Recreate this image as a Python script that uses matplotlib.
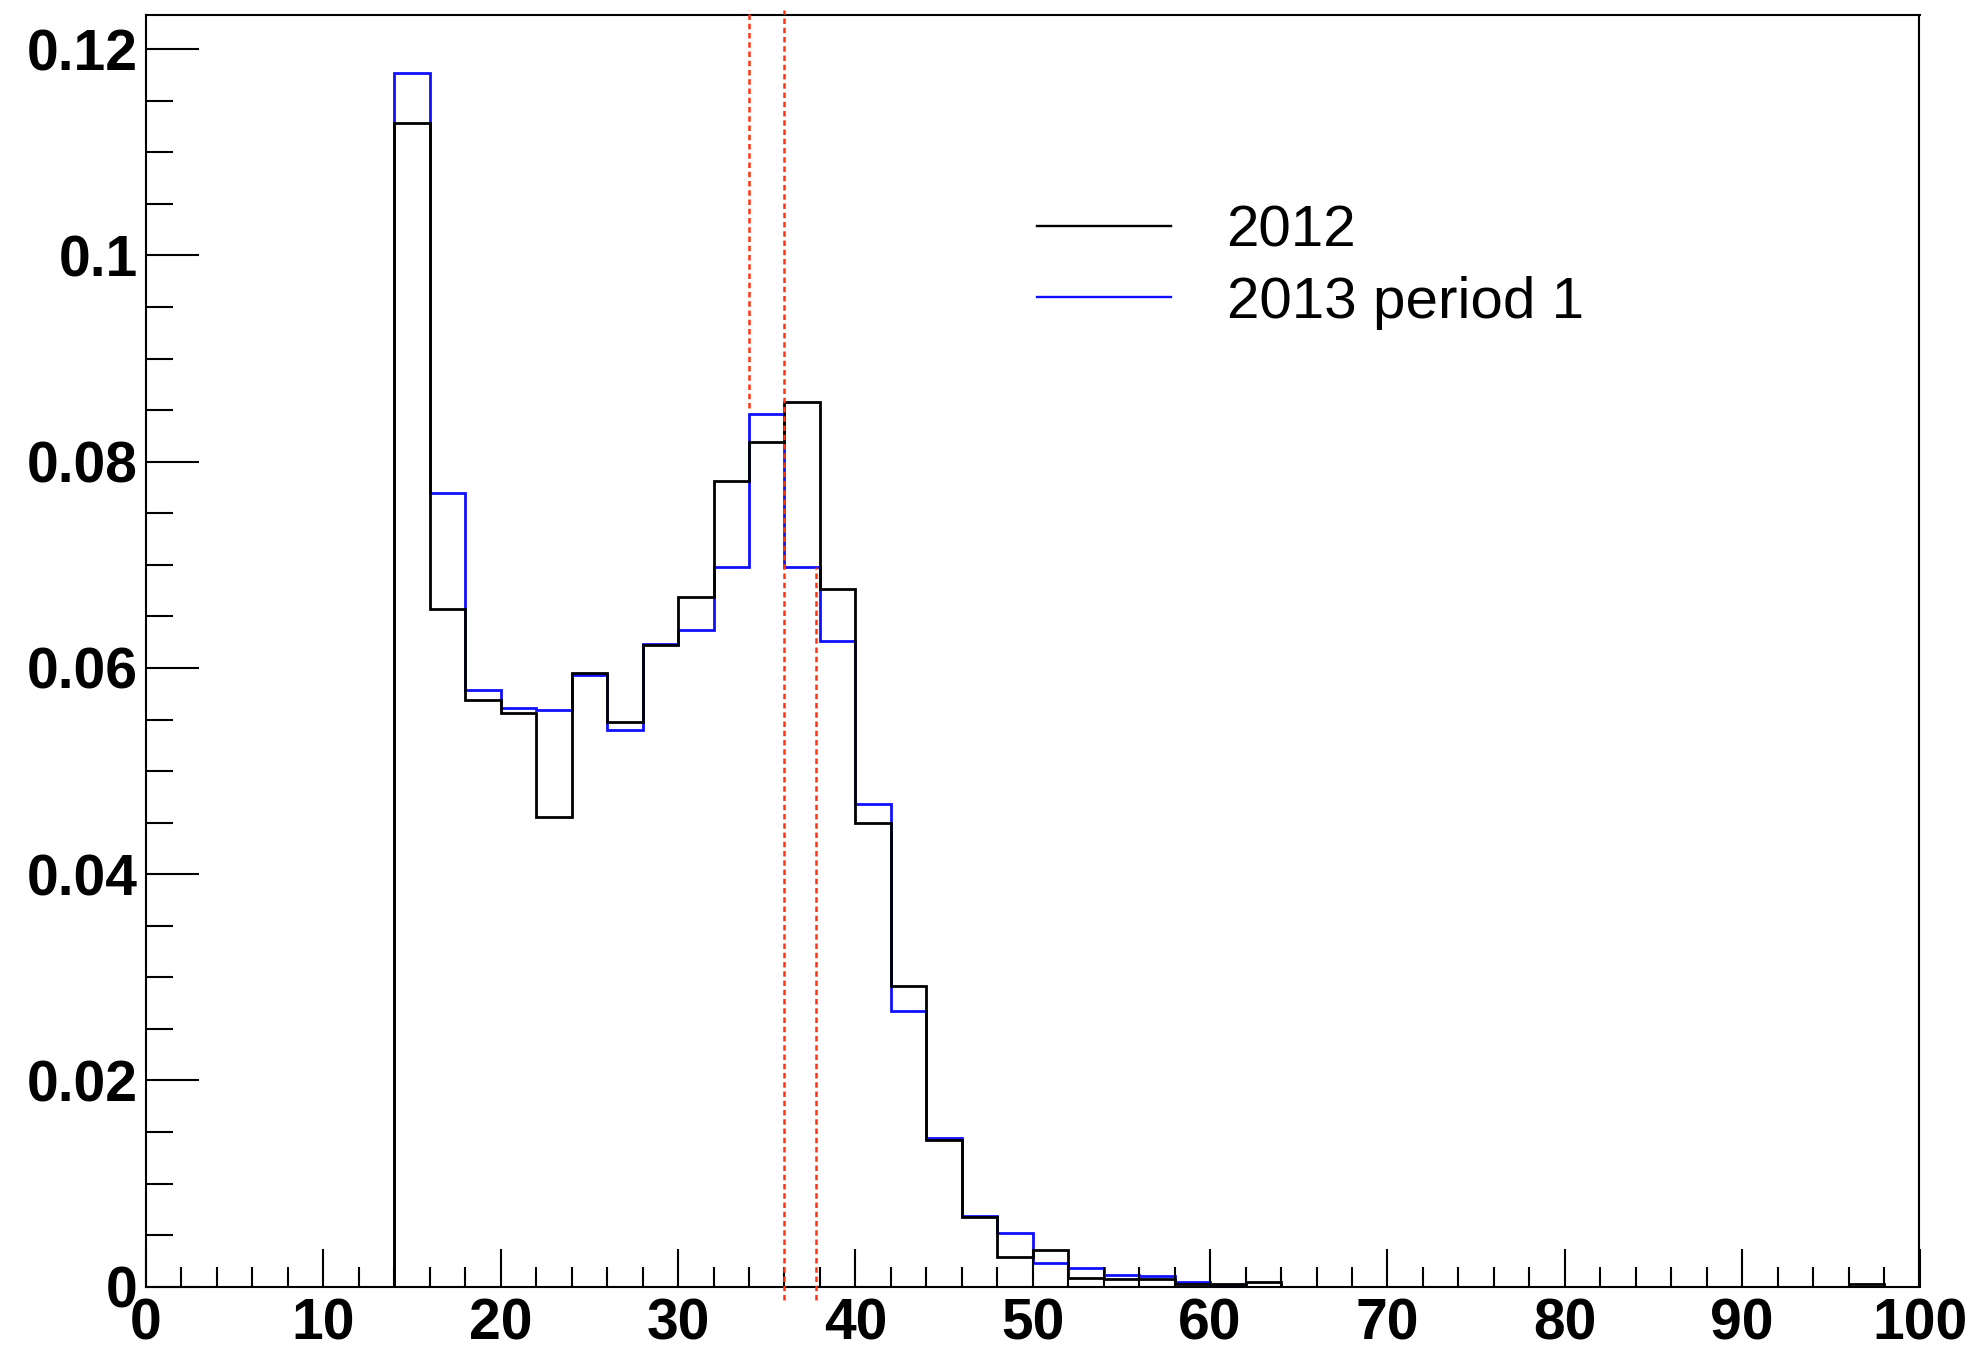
import numpy as np
import matplotlib
matplotlib.use('Agg')
import matplotlib.pyplot as plt
from matplotlib.ticker import MultipleLocator, FuncFormatter
from matplotlib.lines import Line2D

# 50 bins of width 2 covering 0..100; filled bins start at 14
EDGES = np.arange(0, 101, 2)
FIRST_BIN = 7  # bin 14-16

VALS_2012 = [0.1128, 0.0657, 0.0569, 0.0556, 0.0455, 0.0595, 0.0548, 0.0622,
             0.0669, 0.0781, 0.0819, 0.0858, 0.0677, 0.0450, 0.0292, 0.0142,
             0.0068, 0.0029, 0.0036, 0.0008, 0.0007, 0.0007, 0.0003, 0.0003,
             0.0005]
VALS_2013 = [0.1177, 0.0770, 0.0579, 0.0561, 0.0559, 0.0593, 0.0540, 0.0623,
             0.0637, 0.0698, 0.0846, 0.0698, 0.0626, 0.0468, 0.0267, 0.0144,
             0.0069, 0.0052, 0.0023, 0.0018, 0.0011, 0.0010, 0.0005, 0.0001,
             0.0]
TAIL_BIN_2012 = 48          # bin 96-98
TAIL_VAL_2012 = 0.0003

LABELS = ['2012', '2013 period 1']

# dotted red cut lines: x, lower end, upper end
CUT_X = [34.0, 36.0, 37.8]
CUT_LO = [0.0852, -0.0013, -0.0013]
CUT_HI = [0.1238, 0.1238, 0.0698]

C_2012 = '#000000'
C_2013 = '#1010ff'
C_CUT = '#ff3311'

h2012 = np.zeros(len(EDGES) - 1)
h2012[FIRST_BIN:FIRST_BIN + len(VALS_2012)] = VALS_2012
h2012[TAIL_BIN_2012] = TAIL_VAL_2012
h2013 = np.zeros(len(EDGES) - 1)
h2013[FIRST_BIN:FIRST_BIN + len(VALS_2013)] = VALS_2013

fig = plt.figure(figsize=(19.79, 13.55), dpi=100)
fig.patch.set_facecolor('white')
ax = fig.add_axes([146 / 1979, 1 - 1286.7 / 1355,
                   1773.5 / 1979, 1272 / 1355])

ax.stairs(h2013, EDGES, color=C_2013, linewidth=2.0, baseline=0)
ax.stairs(h2012, EDGES, color=C_2012, linewidth=2.0, baseline=0)

ax.vlines(CUT_X, CUT_LO, CUT_HI, color=C_CUT, linewidth=1.8,
          linestyle=(0, (2.2, 1.5)), clip_on=False, zorder=5)

ax.set_xlim(0, 100)
ax.set_ylim(0, 0.12335)

for side in ('top', 'right', 'left', 'bottom'):
    ax.spines[side].set_linewidth(1.5)

ax.xaxis.set_major_locator(MultipleLocator(10))
ax.xaxis.set_minor_locator(MultipleLocator(2))
ax.yaxis.set_major_locator(MultipleLocator(0.02))
ax.yaxis.set_minor_locator(MultipleLocator(0.005))
ax.yaxis.set_major_formatter(FuncFormatter(lambda v, p: f'{v:g}'))
ax.xaxis.set_major_formatter(FuncFormatter(lambda v, p: f'{v:g}'))

ax.tick_params(axis='x', which='major', direction='in', length=27.4,
               width=1.5, pad=8)
ax.tick_params(axis='x', which='minor', direction='in', length=14.4,
               width=1.5)
ax.tick_params(axis='y', which='major', direction='in', length=38,
               width=1.5, pad=6)
ax.tick_params(axis='y', which='minor', direction='in', length=19.4,
               width=1.5)
for lab in ax.get_xticklabels() + ax.get_yticklabels():
    lab.set_family('Liberation Sans')
    lab.set_fontweight('bold')
    lab.set_fontsize(41)

handles = [Line2D([], [], color=C_2012, linewidth=1.7),
           Line2D([], [], color=C_2013, linewidth=1.7)]
leg = ax.legend(handles, LABELS, loc='upper left',
                bbox_to_anchor=(0.5024, 0.851), frameon=False,
                borderpad=0, borderaxespad=0, handlelength=2.3,
                handletextpad=0.95, labelspacing=0.30,
                prop={'family': 'Liberation Sans', 'size': 42})

fig.savefig('out.png', dpi=100, facecolor='white')
